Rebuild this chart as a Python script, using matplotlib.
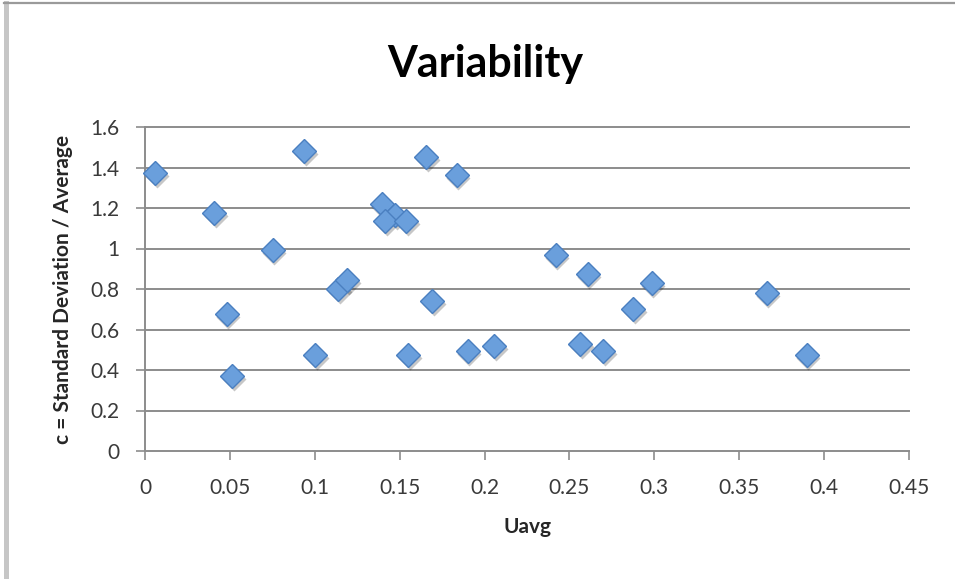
import matplotlib
matplotlib.use("Agg")
import matplotlib.pyplot as plt
import matplotlib.transforms as mtransforms
from matplotlib.lines import Line2D

# Mean flow vs. coefficient of variation for each site
uavg = [0.0059, 0.0939, 0.1658, 0.0406, 0.1394, 0.1472, 0.1413, 0.1538,
        0.0752, 0.1139, 0.1192, 0.0481, 0.1001, 0.1551, 0.0515, 0.1692,
        0.1835, 0.1900, 0.2057, 0.2418, 0.2607, 0.2984, 0.2876, 0.2562,
        0.2700, 0.3662, 0.3897]
cv = [1.373, 1.480, 1.452, 1.175, 1.222, 1.164, 1.134, 1.134,
      0.991, 0.802, 0.846, 0.675, 0.476, 0.476, 0.370, 0.739,
      1.361, 0.492, 0.517, 0.966, 0.873, 0.831, 0.700, 0.530,
      0.492, 0.780, 0.476]

x_ticks = [0, 0.05, 0.1, 0.15, 0.2, 0.25, 0.3, 0.35, 0.4, 0.45]
x_tick_labels = ["0", "0.05", "0.1", "0.15", "0.2", "0.25", "0.3", "0.35", "0.4", "0.45"]
y_ticks = [0, 0.2, 0.4, 0.6, 0.8, 1.0, 1.2, 1.4, 1.6]
y_tick_labels = ["0", "0.2", "0.4", "0.6", "0.8", "1", "1.2", "1.4", "1.6"]

title = "Variability"
x_label = "Uavg"
y_label = "c = Standard Deviation / Average"

plt.rcParams["font.family"] = ["Lato", "DejaVu Sans"]

W, H = 955, 579
fig = plt.figure(figsize=(W / 100, H / 100), dpi=100)
fig.patch.set_facecolor("white")

# chart-area frame (left and top edges)
fig.add_artist(Line2D([5.5 / W, 5.5 / W], [0, 1 - 3 / H], color="#c6c6c6", lw=3.6))
fig.add_artist(Line2D([4 / W, 1], [1 - 3 / H, 1 - 3 / H], color="#9a9a9a", lw=1.6))

ax = fig.add_axes([145 / W, 1 - 451 / H, 764 / W, 324 / H])
ax.set_xlim(x_ticks[0], x_ticks[-1])
ax.set_ylim(y_ticks[0], y_ticks[-1])

grid_col = "#8c8c8c"
for yv in y_ticks:
    ax.axhline(yv, color=grid_col, lw=1.4, zorder=1, clip_on=False)

for side in ("top", "right", "bottom"):
    ax.spines[side].set_visible(False)
ax.spines["left"].set_color(grid_col)
ax.spines["left"].set_linewidth(1.4)

ax.set_xticks(x_ticks)
ax.set_xticklabels(x_tick_labels)
ax.set_yticks(y_ticks)
ax.set_yticklabels(y_tick_labels)
ax.tick_params(axis="x", direction="out", length=6.5, width=1.2, color=grid_col,
               pad=13, labelsize=15, labelcolor="#3a3a3a")
ax.tick_params(axis="y", direction="out", length=6.5, width=1.2, color=grid_col,
               pad=12, labelsize=15, labelcolor="#3a3a3a")

# soft drop shadow under the markers
shadow = ax.transData + mtransforms.ScaledTranslation(1.2 / 72, -2.2 / 72, fig.dpi_scale_trans)
ax.plot(uavg, cv, "D", ms=12, mfc=(0, 0, 0, 0.22), mec="none",
        transform=shadow, zorder=2, clip_on=False)
ax.plot(uavg, cv, "D", ms=12, mfc="#6a9fdc", mec="#4a7fc0", mew=1.0,
        zorder=3, clip_on=False)

fig.text(485 / W, 1 - 77 / H, title, ha="center", va="baseline",
         fontsize=31, fontweight="bold", color="black")
fig.text(527 / W, 1 - 533 / H, x_label, ha="center", va="baseline",
         fontsize=15, fontweight="bold", color="#262626")
fig.text(63 / W, 1 - 289 / H, y_label, ha="center", va="center", rotation=90,
         fontsize=15, fontweight="bold", color="#262626")

fig.savefig("out.png", dpi=100, facecolor="white")
